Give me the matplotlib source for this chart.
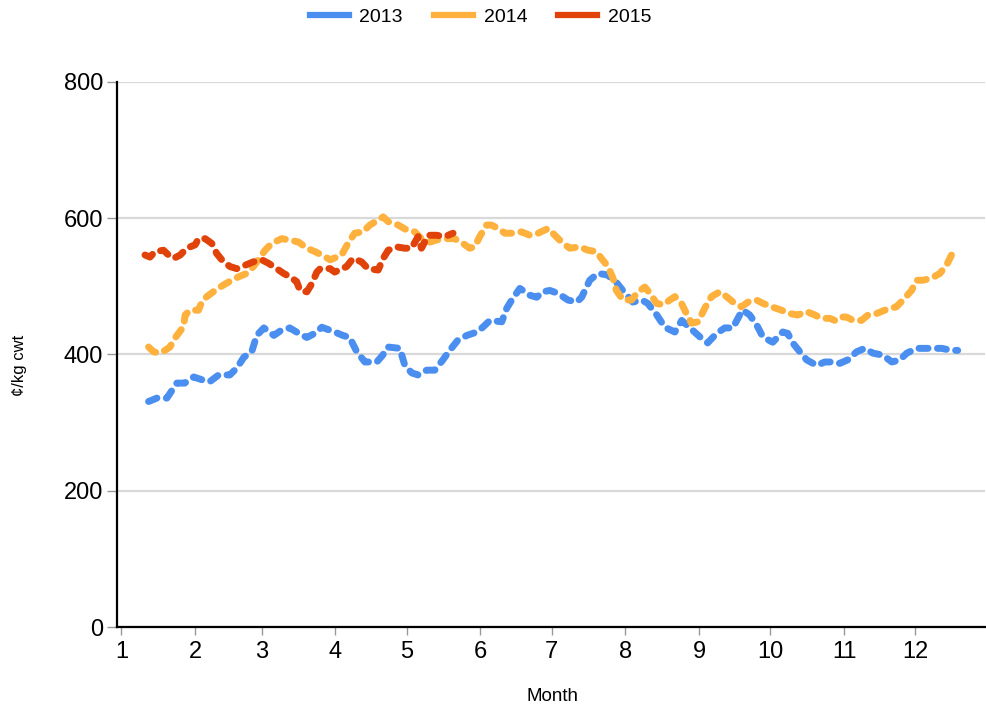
import matplotlib
matplotlib.use("Agg")
import matplotlib.pyplot as plt
from matplotlib.lines import Line2D

plt.rcParams['font.family'] = ['Liberation Sans', 'DejaVu Sans']

# day of year (0 = 1 Jan) and price
day_2013 = [11.4, 14.9, 19.1, 23.3, 26.6, 30.4, 34.6, 37.1, 40.9, 45.6, 48.5, 51.5, 54.8, 56.9,
            59.9, 64.1, 67.4, 70.8, 74.6, 78.0, 81.3, 84.3, 89.7, 93.1, 96.0, 99.0, 102.4, 107.4,
            109.9, 112.0, 117.1, 119.2, 122.1, 124.7, 128.4, 131.8, 135.2, 138.1, 141.5, 145.3,
            149.5, 152.0, 155.0, 160.0, 162.1, 164.2, 167.6, 171.8, 174.7, 177.2, 180.2, 183.5,
            187.8, 191.5, 193.6, 197.0, 200.4, 204.2, 207.5, 210.9, 215.1, 218.9, 221.4, 225.2,
            228.6, 232.8, 235.7, 243.3, 246.6, 250.4, 253.8, 257.2, 260.1, 261.4, 264.3, 267.3,
            269.8, 270.7, 274.0, 278.2, 280.3, 282.4, 285.4, 288.3, 292.5, 295.9, 298.8, 302.2,
            305.5, 309.3, 312.7, 316.1, 320.3, 324.1, 327.4, 330.4, 334.6, 337.1, 341.3, 345.1,
            349.3, 351.8]
val_2013 = [331, 336, 336, 358, 358, 367, 362, 360, 370, 370, 380, 396, 404, 428,
            439, 428, 436, 439, 431, 425, 431, 440, 433, 428, 425, 404, 389, 389,
            399, 411, 409, 384, 373, 370, 377, 377, 392, 406, 421, 428,
            433, 440, 450, 448, 468, 480, 497, 487, 484, 492, 494, 490,
            480, 477, 484, 509, 519, 517, 509, 494, 477, 480, 475, 458,
            440, 433, 450, 426, 417, 431, 439, 439, 458, 465, 458, 443,
            426, 424, 418, 433, 431, 417, 404, 392, 384, 389, 389, 387,
            392, 404, 409, 402, 399, 389, 392, 402, 409, 409, 409, 409,
            406, 406]

day_2014 = [11.4, 13.5, 15.6, 18.3, 20.4, 22.5, 26.1, 26.8, 28.9, 32.4, 33.8, 35.9, 39.4, 42.9,
            46.4, 49.2, 52.7, 55.5, 57.6, 60.4, 63.2, 67.4, 70.9, 74.5, 78.0, 81.4, 84.3, 87.8,
            90.6, 92.6, 95.3, 98.1, 101.6, 104.5, 110.1, 112.2, 116.4, 119.9, 123.4, 126.2,
            129.7, 132.5, 136.0, 140.2, 143.7, 146.5, 148.6, 150.7, 153.6, 155.7, 158.4, 161.3,
            164.7, 168.3, 171.8, 175.3, 179.5, 182.3, 185.8, 188.6, 192.8, 196.3, 199.8, 201.9,
            204.7, 206.8, 208.2, 211.0, 214.6, 217.3, 220.2, 222.3, 225.1, 227.9, 230.7, 232.8,
            235.6, 237.7, 239.8, 242.6, 245.4, 248.2, 251.7, 254.5, 257.3, 260.8, 263.6, 267.1,
            269.9, 273.5, 277.7, 281.2, 284.6, 288.2, 291.7, 294.5, 298.0, 300.1, 302.2, 305.0,
            307.8, 311.3, 314.1, 317.6, 321.1, 323.9, 326.0, 328.8, 332.4, 334.5, 337.2, 340.8,
            344.3, 347.1, 349.2, 351.3]
val_2014 = [411, 404, 402, 406, 411, 424, 441, 458, 465, 465, 477, 485, 494, 502,
            509, 514, 519, 529, 539, 553, 563, 570, 568, 565, 556, 551, 546, 539,
            543, 546, 563, 578, 580, 590, 602, 595, 590, 583, 580, 570,
            565, 568, 570, 570, 563, 556, 558, 573, 590, 590, 585, 578,
            578, 580, 575, 578, 585, 575, 563, 556, 558, 553, 551, 541,
            529, 512, 494, 480, 480, 492, 499, 490, 475, 473, 480, 485,
            475, 460, 446, 448, 468, 485, 492, 485, 477, 470, 477, 480,
            475, 470, 465, 460, 458, 463, 458, 453, 453, 450, 455, 455,
            450, 450, 458, 460, 465, 468, 470, 480, 494, 509, 509, 512,
            519, 531, 546, 548]

day_2015 = [9.9, 12.0, 14.1, 17.7, 19.8, 21.9, 24.7, 27.5, 31.0, 32.4, 35.2, 38.0, 40.1, 42.9,
            45.7, 48.5, 52.0, 55.5, 59.0, 61.8, 65.3, 68.2, 70.9, 73.7, 75.1, 78.0, 80.1, 82.2,
            83.6, 87.8, 89.7, 94.7, 97.4, 101.0, 103.7, 108.0, 110.1, 112.2, 115.7, 119.2,
            122.0, 124.8, 126.2, 129.0, 132.5, 136.0, 139.5]
val_2015 = [546, 543, 551, 553, 546, 541, 546, 556, 561, 570, 570, 563, 548, 536,
            529, 526, 531, 536, 539, 534, 526, 519, 514, 507, 494, 492, 504, 521,
            526, 526, 521, 529, 541, 536, 526, 524, 541, 553, 558, 556,
            556, 573, 556, 575, 575, 573, 578]

month_starts = [0, 31, 59, 90, 120, 151, 181, 212, 243, 273, 304, 334]
month_labels = [str(m) for m in range(1, 13)]

series = [
    ("2013", day_2013, val_2013, "#4a8ff0"),
    ("2014", day_2014, val_2014, "#ffb13e"),
    ("2015", day_2015, val_2015, "#e0420a"),
]

fig = plt.figure(figsize=(9.87, 7.16), dpi=100)
ax = fig.add_axes([0.1185, 0.1243, 0.8795, 0.7612])

for name, d, v, c in series:
    ax.plot(d, v, color=c, lw=5, linestyle=(0, (1.3, 1.35)),
            dash_capstyle='round', solid_capstyle='round', label=name)

ax.set_xlim(-1.9, 363.3)
ax.set_ylim(0, 800)
ax.set_xticks(month_starts)
ax.set_xticklabels(month_labels)
ax.set_yticks([0, 200, 400, 600, 800])

ax.grid(axis='y', color='#d9d9d9', lw=1.6)
ax.set_axisbelow(True)
for s in ['top', 'right']:
    ax.spines[s].set_visible(False)
for s in ['left', 'bottom']:
    ax.spines[s].set_linewidth(1.6)
    ax.spines[s].set_color('black')

ax.tick_params(axis='y', length=7, width=1, color='#999999', pad=3, labelsize=17)
ax.tick_params(axis='x', length=6, width=1, color='#999999', pad=4, labelsize=17)

ax.set_ylabel("¢/kg cwt", fontsize=12)
ax.yaxis.set_label_coords(-0.104, 0.48)
ax.set_xlabel("Month", fontsize=13.5)
ax.xaxis.set_label_coords(0.502, -0.112)

handles = [Line2D([], [], color=c, lw=4.5) for _, _, _, c in series]
fig.legend(handles, [s[0] for s in series], loc='center', ncol=3,
           bbox_to_anchor=(0.487, 0.976), frameon=False, fontsize=14,
           handlelength=2.0, handletextpad=0.55, columnspacing=1.6)

fig.savefig("out.png", dpi=100)
